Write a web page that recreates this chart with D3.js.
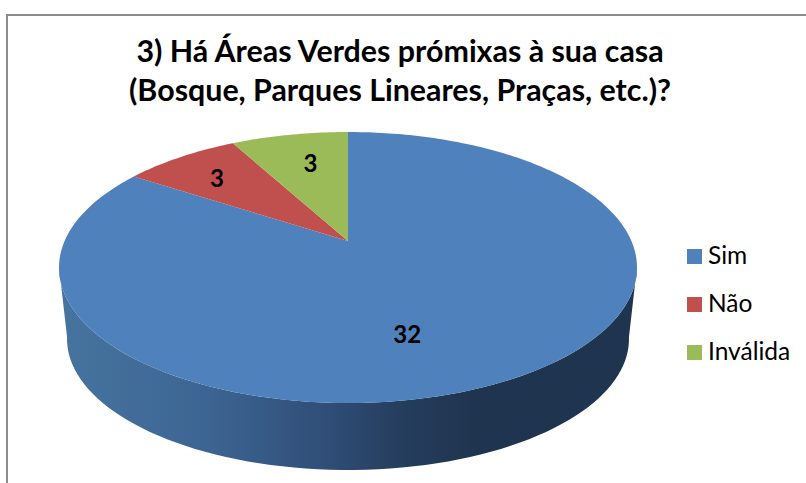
<!DOCTYPE html>
<html>
<head>
<meta charset="utf-8">
<script src="https://cdn.jsdelivr.net/npm/d3@7"></script>
<style>
    body { margin: 0; background: #fff; }
    text { font-family: Lato, sans-serif; fill: #000; }
</style>
</head>
<body>
<div id="chart"></div>
<script>
// Data
const categories = ["Sim", "Não", "Inválida"];
const values = [32, 3, 3];
const colors = ["#4f81bd", "#c0504d", "#9bbb59"];
const titleLines = ["3) Há Áreas Verdes prómixas à sua casa", "(Bosque, Parques Lineares, Praças, etc.)?"];

const width = 806, height = 483;

const svg = d3.select("#chart")
    .append("svg")
    .attr("width", width)
    .attr("height", height)
    .style("display", "block");

// Chart frame, open to the right and bottom like the cropped original
svg.append("path")
    .attr("d", "M7,483V15H806")
    .attr("fill", "none")
    .attr("stroke", "#8c8c8c")
    .attr("stroke-width", 2);

// Title
svg.append("g")
    .selectAll("text")
    .data(titleLines)
    .join("text")
    .attr("x", 400)
    .attr("y", (d, i) => 62 + i * 39)
    .attr("text-anchor", "middle")
    .attr("font-size", 30.4)
    .attr("font-weight", "bold")
    .text(d => d);

// Perspective projection of the pie disc: a unit circle seen from the front,
// far and near are the screen y of the rim, pivot is where the disc centre lands
function makeProjection(cx, pivot, far, near, rx) {
    const c = (2 * pivot - far - near) / (near - far);
    const k = near * (1 + c) - pivot;
    const d = rx * Math.sqrt(1 - c * c);
    return function (angle, r = 1) {
        const px = Math.sin(angle) * r, py = -Math.cos(angle) * r;
        const w = 1 + c * py;
        return [cx + d * px / w, (k * py + pivot) / w];
    };
}

const topDisc = makeProjection(348, 241, 132, 403, 289);
const bottomDisc = makeProjection(348, 312, 208, 470, 281);

const pie = d3.pie().sort(null).value(d => d)(values);
const line = d3.line();

// Side wall with the horizontal shading
const wallShade = svg.append("defs").append("linearGradient")
    .attr("id", "wall")
    .attr("gradientUnits", "userSpaceOnUse")
    .attr("x1", 59).attr("x2", 637)
    .attr("y1", 0).attr("y2", 0);

wallShade.selectAll("stop")
    .data([[0, "#46749f"], [0.25, "#3d6593"], [0.45, "#304f79"], [0.58, "#263f60"], [0.72, "#1f344e"], [1, "#1f344e"]])
    .join("stop")
    .attr("offset", d => d[0])
    .attr("stop-color", d => d[1]);

// Silhouette of the disc sits about 101 degrees either side of the far point
const wallAngles = d3.range(101, 260, 2).map(d => d * Math.PI / 180);
svg.append("path")
    .attr("fill", "url(#wall)")
    .attr("d", line(wallAngles.map(a => topDisc(a)).concat(wallAngles.slice().reverse().map(a => bottomDisc(a)))) + "Z");

// Top surface slices
const rimStep = Math.PI / 180;
svg.append("g")
    .selectAll("path")
    .data(pie)
    .join("path")
    .attr("fill", (d, i) => colors[i])
    .attr("d", d => {
        const rim = d3.range(d.startAngle, d.endAngle, rimStep).concat(d.endAngle).map(a => topDisc(a));
        return line([topDisc(0, 0)].concat(rim)) + "Z";
    });

// Value labels: projected at the slice middle, then nudged to where the original has them
const labelNudge = [[-31, 17], [-25, -9], [0, -9]];
svg.append("g")
    .selectAll("text")
    .data(pie)
    .join("text")
    .attr("x", (d, i) => topDisc((d.startAngle + d.endAngle) / 2, 0.6)[0] + labelNudge[i][0])
    .attr("y", (d, i) => topDisc((d.startAngle + d.endAngle) / 2, 0.6)[1] + labelNudge[i][1])
    .attr("dy", "0.35em")
    .attr("text-anchor", "middle")
    .attr("font-size", 24)
    .attr("font-weight", "bold")
    .text(d => d.value);

// Legend
const legendY = d3.scalePoint().domain(categories).range([249, 345]);
const legend = svg.append("g")
    .selectAll("g")
    .data(categories)
    .join("g")
    .attr("transform", d => `translate(687,${legendY(d)})`);

legend.append("rect")
    .attr("width", 15)
    .attr("height", 15)
    .attr("fill", (d, i) => colors[i]);

legend.append("text")
    .attr("x", 21)
    .attr("y", 15)
    .attr("font-size", 24.5)
    .text(d => d);
</script>
</body>
</html>
